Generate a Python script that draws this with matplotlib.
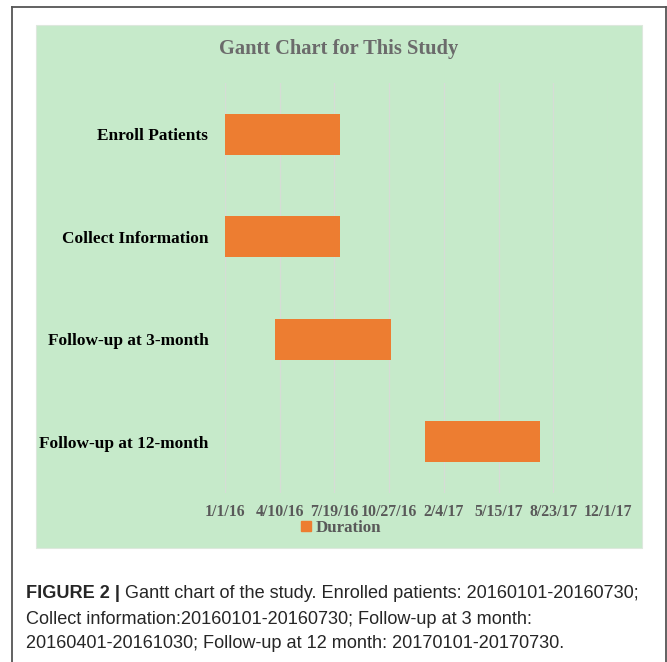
import datetime as dt

import matplotlib
matplotlib.use("Agg")
import matplotlib.pyplot as plt
import matplotlib.dates as mdates
from matplotlib.patches import Rectangle, Patch
from matplotlib.lines import Line2D

# --- données ---
tasks  = ["Enroll Patients", "Collect Information",
          "Follow-up at 3-month", "Follow-up at 12-month"]
starts = ["2016-01-01", "2016-01-01", "2016-04-01", "2017-01-01"]
ends   = ["2016-07-30", "2016-07-30", "2016-10-30", "2017-07-30"]
tick_labels = ["1/1/16", "4/10/16", "7/19/16", "10/27/16",
               "2/4/17", "5/15/17", "8/23/17", "12/1/17"]
series_name = "Duration"
title = "Gantt Chart for This Study"
caption_bold = "FIGURE 2 |"
caption_lines = [
    " Gantt chart of the study. Enrolled patients: 20160101-20160730;",
    "Collect information:20160101-20160730; Follow-up at 3 month:",
    "20160401-20161030; Follow-up at 12 month: 20170101-20170730.",
]

ORANGE = "#ED7D31"
GREEN = "#C6EACA"
GRID = "#D6DCD6"
SERIF = "Liberation Serif"

W, H = 667, 662
fig = plt.figure(figsize=(W / 100, H / 100), dpi=100)


def fx(px):
    return px / W


def fy(py):
    return 1 - py / H


# cadre extérieur (gauche, haut, droite)
frame = dict(color="#555555", lw=1.3, transform=fig.transFigure)
fig.add_artist(Line2D([fx(12), fx(12)], [0, fy(7)], **frame))
fig.add_artist(Line2D([fx(12), fx(666)], [fy(7), fy(7)], **frame))
fig.add_artist(Line2D([fx(666), fx(666)], [0, fy(7)], **frame))

# zone du graphique (fond vert)
fig.add_artist(Rectangle((fx(36), fy(548)), fx(642) - fx(36), fy(25) - fy(548),
                         transform=fig.transFigure, facecolor=GREEN,
                         edgecolor="#DDE8DD", lw=0.8, zorder=0))

ax = fig.add_axes([fx(225), fy(493), fx(608) - fx(225), fy(83) - fy(493)])
ax.set_facecolor("none")

d0 = mdates.datestr2num(starts)
d1 = mdates.datestr2num(ends)
y = range(len(tasks))
ax.barh(y, d1 - d0, left=d0, height=0.4, color=ORANGE, zorder=3,
        label=series_name)

ticks = [mdates.date2num(dt.datetime.strptime(t, "%m/%d/%y")) for t in tick_labels]
ax.set_xticks(ticks)
ax.set_xticklabels(tick_labels, fontfamily=SERIF, fontweight="bold",
                   fontsize=11.4, color="#595959")
ax.set_xlim(ticks[0], ticks[-1])
ax.set_ylim(len(tasks) - 0.5, -0.5)
ax.set_yticks(list(y))
ax.set_yticklabels(tasks, fontfamily=SERIF, fontweight="bold",
                   fontsize=12.4, color="black")
ax.tick_params(length=0, axis="y", pad=12)
ax.tick_params(length=0, axis="x", pad=8)
ax.grid(axis="x", color=GRID, lw=0.9, zorder=1)
for s in ax.spines.values():
    s.set_visible(False)

fig.text(fx(339), fy(49), title, ha="center", va="center",
         fontfamily=SERIF, fontweight="bold", fontsize=14.8, color="#6B6B6B")

fig.legend(handles=[Patch(color=ORANGE, label=series_name)],
           loc="center", bbox_to_anchor=(fx(341), fy(528)), frameon=False,
           prop=dict(family=SERIF, weight="bold", size=12.2),
           labelcolor="#595959", handlelength=0.6, handleheight=0.6,
           handletextpad=0.25, borderpad=0)

# légende de la figure (texte en dessous)
cap = dict(fontfamily="Liberation Sans", fontsize=13.1, color="#262626",
           va="center", ha="left")
line_y = [593, 619, 644]
b = fig.text(fx(26), fy(line_y[0]), caption_bold, fontweight="bold", **cap)
fig.canvas.draw()
bb = b.get_window_extent()
fig.text(bb.x1 / W, fy(line_y[0]), caption_lines[0], **cap)
for txt, yy in zip(caption_lines[1:], line_y[1:]):
    fig.text(fx(26), fy(yy), txt, **cap)

fig.savefig("out.png", dpi=100)
